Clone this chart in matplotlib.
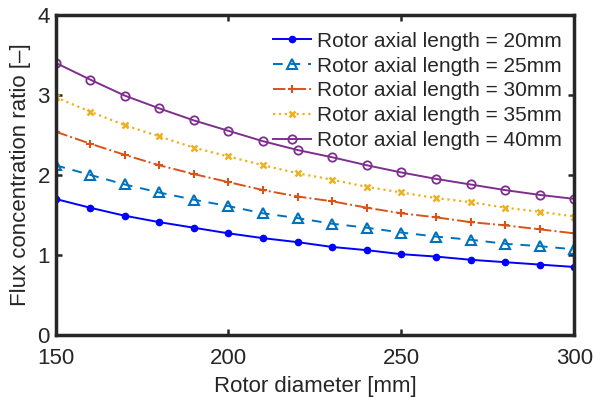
import numpy as np
import matplotlib
matplotlib.use("Agg")
import matplotlib.pyplot as plt

plt.rcParams['font.family'] = ['Liberation Sans', 'DejaVu Sans']
plt.rcParams['text.color'] = '#262626'
plt.rcParams['axes.labelcolor'] = '#262626'

# rotor diameter [mm]
diameter = [150, 160, 170, 180, 190, 200, 210, 220, 230, 240, 250, 260, 270, 280, 290, 300]

# flux concentration ratio for each rotor axial length
len20 = [1.70, 1.59, 1.49, 1.41, 1.34, 1.27, 1.21, 1.16, 1.10, 1.06, 1.01, 0.98, 0.94, 0.91, 0.88, 0.85]
len25 = [2.12, 2.00, 1.88, 1.78, 1.69, 1.61, 1.52, 1.46, 1.39, 1.34, 1.28, 1.23, 1.19, 1.14, 1.11, 1.07]
len30 = [2.54, 2.39, 2.25, 2.12, 2.01, 1.91, 1.81, 1.73, 1.67, 1.59, 1.52, 1.47, 1.41, 1.37, 1.32, 1.27]
len35 = [2.97, 2.79, 2.62, 2.48, 2.34, 2.23, 2.12, 2.02, 1.94, 1.85, 1.78, 1.71, 1.66, 1.59, 1.54, 1.48]
len40 = [3.40, 3.19, 2.99, 2.83, 2.68, 2.55, 2.42, 2.31, 2.22, 2.12, 2.03, 1.95, 1.88, 1.81, 1.75, 1.70]

labels = ['Rotor axial length = 20mm', 'Rotor axial length = 25mm',
          'Rotor axial length = 30mm', 'Rotor axial length = 35mm',
          'Rotor axial length = 40mm']

fig = plt.figure(figsize=(5.95, 3.97), dpi=100)
ax = fig.add_axes([0.0933, 0.156, 0.872, 0.807])

ax.plot(diameter, len20, '-', color='#0000FF', lw=1.4, marker='o', ms=4.5, label=labels[0])
ax.plot(diameter, len25, '--', color='#0072BD', lw=1.4, marker='^', ms=7, mfc='none', mew=1.5,
        dashes=(5, 4), label=labels[1])
ax.plot(diameter, len30, '-.', color='#D95319', lw=1.4, marker='+', ms=5.5, mew=1.5, label=labels[2])
ax.plot(diameter, len35, ':', color='#EDB120', lw=1.6, marker='x', ms=4, mew=1.8, label=labels[3])
ax.plot(diameter, len40, '-', color='#7E2F8E', lw=1.4, marker='o', ms=6, mfc='none', mew=1.3,
        label=labels[4])

ax.set_xlim(150, 300)
ax.set_ylim(0, 4)
ax.set_xticks([150, 200, 250, 300])
ax.set_yticks([0, 1, 2, 3, 4])
ax.tick_params(direction='in', length=4.5, width=1.8, labelsize=16, top=True, right=True,
               colors='#262626')
ax.tick_params(axis='x', pad=9)
ax.tick_params(axis='y', pad=4)
for sp in ax.spines.values():
    sp.set_linewidth(2.5)
    sp.set_color('#262626')
ax.set_xlabel('Rotor diameter [mm]', fontsize=16, labelpad=5)
ax.set_ylabel('Flux concentration ratio [\u2013]', fontsize=16, labelpad=5)

ax.legend(loc='upper right', frameon=False, fontsize=15, handlelength=1.85,
          handletextpad=0.25, labelspacing=0.28, borderaxespad=0, borderpad=0,
          bbox_to_anchor=(0.975, 0.947))

fig.savefig('out.png', dpi=100)
